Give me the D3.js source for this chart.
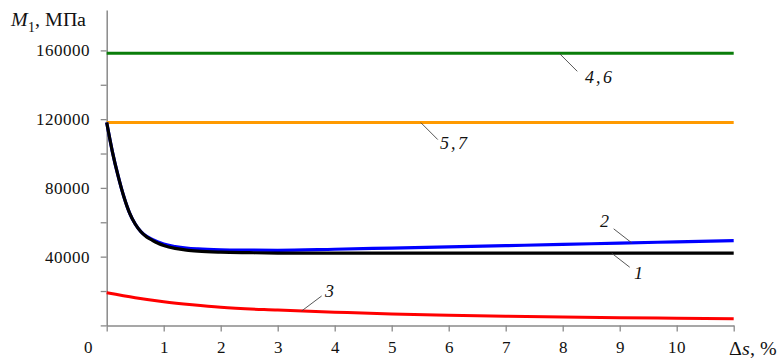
<!DOCTYPE html>
<html>
<head>
<meta charset="utf-8">
<script src="https://cdn.jsdelivr.net/npm/d3@7"></script>
<style>
  @font-face { font-family: "ChartSerif"; src: local("Liberation Serif"), local("LiberationSerif"), local("Liberation Serif Regular"); font-style: normal; }
  @font-face { font-family: "ChartSerif"; src: local("Liberation Serif Italic"), local("LiberationSerif-Italic"); font-style: italic; }
</style>
</head>
<body style="margin:0">
<svg id="chart" width="780" height="362" style="display:block;background:#fff" font-family="ChartSerif, 'Liberation Serif', serif"></svg>
<script>
// ---- data ----
const xCurve = [0, 0.1, 0.2, 0.3, 0.4, 0.5, 0.6, 0.7, 0.8, 0.9, 1.0, 1.2, 1.4, 1.6, 2.0, 2.5, 3, 4, 5, 6, 7, 8, 9, 10, 11];
const series1 = [118000, 101000, 87000, 75000, 65500, 59000, 54500, 51500, 49500, 47800, 46500, 44800, 43800, 43200, 42600, 42300, 42100, 42050, 42000, 42000, 42000, 42000, 42000, 42000, 42000];
const series2 = [118000, 101000, 87000, 75000, 65500, 59000, 54600, 51800, 50000, 48500, 47300, 45900, 45000, 44500, 44000, 43800, 43700, 44300, 45000, 45700, 46400, 47100, 47900, 48600, 49300];
const xRed = [0, 0.5, 1, 1.5, 2, 3, 4, 5, 6, 7, 8, 9, 10, 11];
const series3 = [19000, 16100, 13800, 12000, 10500, 8900, 7700, 6600, 5900, 5300, 4850, 4500, 4200, 3900];
const xFlat = [0, 11];
const series46 = [158300, 158300];
const series57 = [118000, 118000];
const yTicks = [0, 20000, 40000, 60000, 80000, 100000, 120000, 140000, 160000];
const yLabels = [40000, 80000, 120000, 160000];
const xTicks = [0, 1, 2, 3, 4, 5, 6, 7, 8, 9, 10, 11];
const xLabels = [1, 2, 3, 4, 5, 6, 7, 8, 9, 10];
const annoText = ["4,6", "5,7", "2", "1", "3"];
const annoX = [7.94, 5.51, 9.21, 8.86, 3.42];

// ---- layout ----
const FONT = "ChartSerif, 'Liberation Serif', serif";
const svg = d3.select("#chart");
const x = d3.scaleLinear().domain([0, 11]).range([106.7, 733.7]);
const y = d3.scaleLinear().domain([0, 183500]).range([325.4, 10]);
const axisColor = "#8a8a8a";

// y axis
const yAxis = d3.axisLeft(y).tickValues(yTicks).tickSize(6).tickSizeOuter(0)
  .tickFormat(d => yLabels.includes(d) ? String(d) : "");
const gy = svg.append("g").attr("transform", `translate(${x(0)},0)`).call(yAxis);
gy.attr("font-family", FONT);
gy.select(".domain").attr("stroke", axisColor).attr("stroke-width", 1.5);
gy.selectAll(".tick line").attr("stroke", axisColor).attr("stroke-width", 1.3);
gy.selectAll(".tick text").attr("x", -17).attr("font-size", 17).attr("fill", "#111");

// x axis
const xAxis = d3.axisBottom(x).tickValues(xTicks).tickSize(6).tickSizeOuter(0)
  .tickFormat(d => xLabels.includes(d) ? String(d) : "");
const gx = svg.append("g").attr("transform", `translate(0,${y(0)})`).call(xAxis);
gx.attr("font-family", FONT);
gx.select(".domain").attr("stroke", axisColor).attr("stroke-width", 1.5);
gx.selectAll(".tick line").attr("stroke", axisColor).attr("stroke-width", 1.3);
gx.selectAll(".tick text").attr("y", 0).attr("dy", 0)
  .attr("transform", "translate(0,28)")
  .attr("font-size", 17).attr("fill", "#111");

// origin label
svg.append("text").attr("x", x(0) - 18.5).attr("y", y(0) + 28)
  .attr("text-anchor", "middle").attr("font-size", 17).attr("fill", "#111").text("0");

// axis titles
const yt = svg.append("text").attr("x", 11).attr("y", 26).attr("font-size", 20).attr("fill", "#111");
yt.append("tspan").attr("font-style", "italic").text("M");
yt.append("tspan").attr("font-size", 14).attr("dy", 6).text("1");
yt.append("tspan").attr("dy", -6).text(", МПа");

const xt = svg.append("text").attr("x", 777).attr("y", 355).attr("font-size", 20)
  .attr("text-anchor", "end").attr("fill", "#111");
xt.append("tspan").text("Δ");
xt.append("tspan").attr("font-style", "italic").text("s");
xt.append("tspan").text(", %");

// lines
const line = (xsArr) => d3.line()
  .x((d, i) => x(xsArr[i]))
  .y(d => y(d))
  .curve(d3.curveMonotoneX);

const drawSeries = (xsArr, vals, color, w) =>
  svg.append("path").datum(vals).attr("d", line(xsArr))
    .attr("fill", "none").attr("stroke", color).attr("stroke-width", w)
    .attr("stroke-linejoin", "round");

drawSeries(xFlat, series46, "#0a7d0a", 3);
drawSeries(xFlat, series57, "#ff9a00", 3);
drawSeries(xRed, series3, "#ff0000", 3);
drawSeries(xCurve, series2, "#0000ff", 3.2);
drawSeries(xCurve, series1, "#000000", 3.2);

// annotations
const annoVal = [series46[0], series57[0],
  d3.scaleLinear().domain(xCurve).range(series2)(annoX[2]),
  d3.scaleLinear().domain(xCurve).range(series1)(annoX[3]),
  d3.scaleLinear().domain(xRed).range(series3)(annoX[4])];
const leadOff = [[18, 18], [17, 17], [-18, -14], [18, 14], [20, -15]];
const textOff = [[26, 30], [19, 26], [-32, -16], [22, 26], [23, -14]];
annoText.forEach((t, i) => {
  const ax = x(annoX[i]), ay = y(annoVal[i]);
  svg.append("line").attr("x1", ax).attr("y1", ay)
    .attr("x2", ax + leadOff[i][0]).attr("y2", ay + leadOff[i][1])
    .attr("stroke", "#444").attr("stroke-width", 0.9);
  svg.append("text").attr("x", ax + textOff[i][0]).attr("y", ay + textOff[i][1])
    .attr("font-size", 18).attr("font-style", "italic").attr("fill", "#111")
    .attr("letter-spacing", t.length > 1 ? 2 : 0).text(t);
});

svg.selectAll("text").attr("font-family", FONT).style("font-family", FONT);
</script>
</body>
</html>
